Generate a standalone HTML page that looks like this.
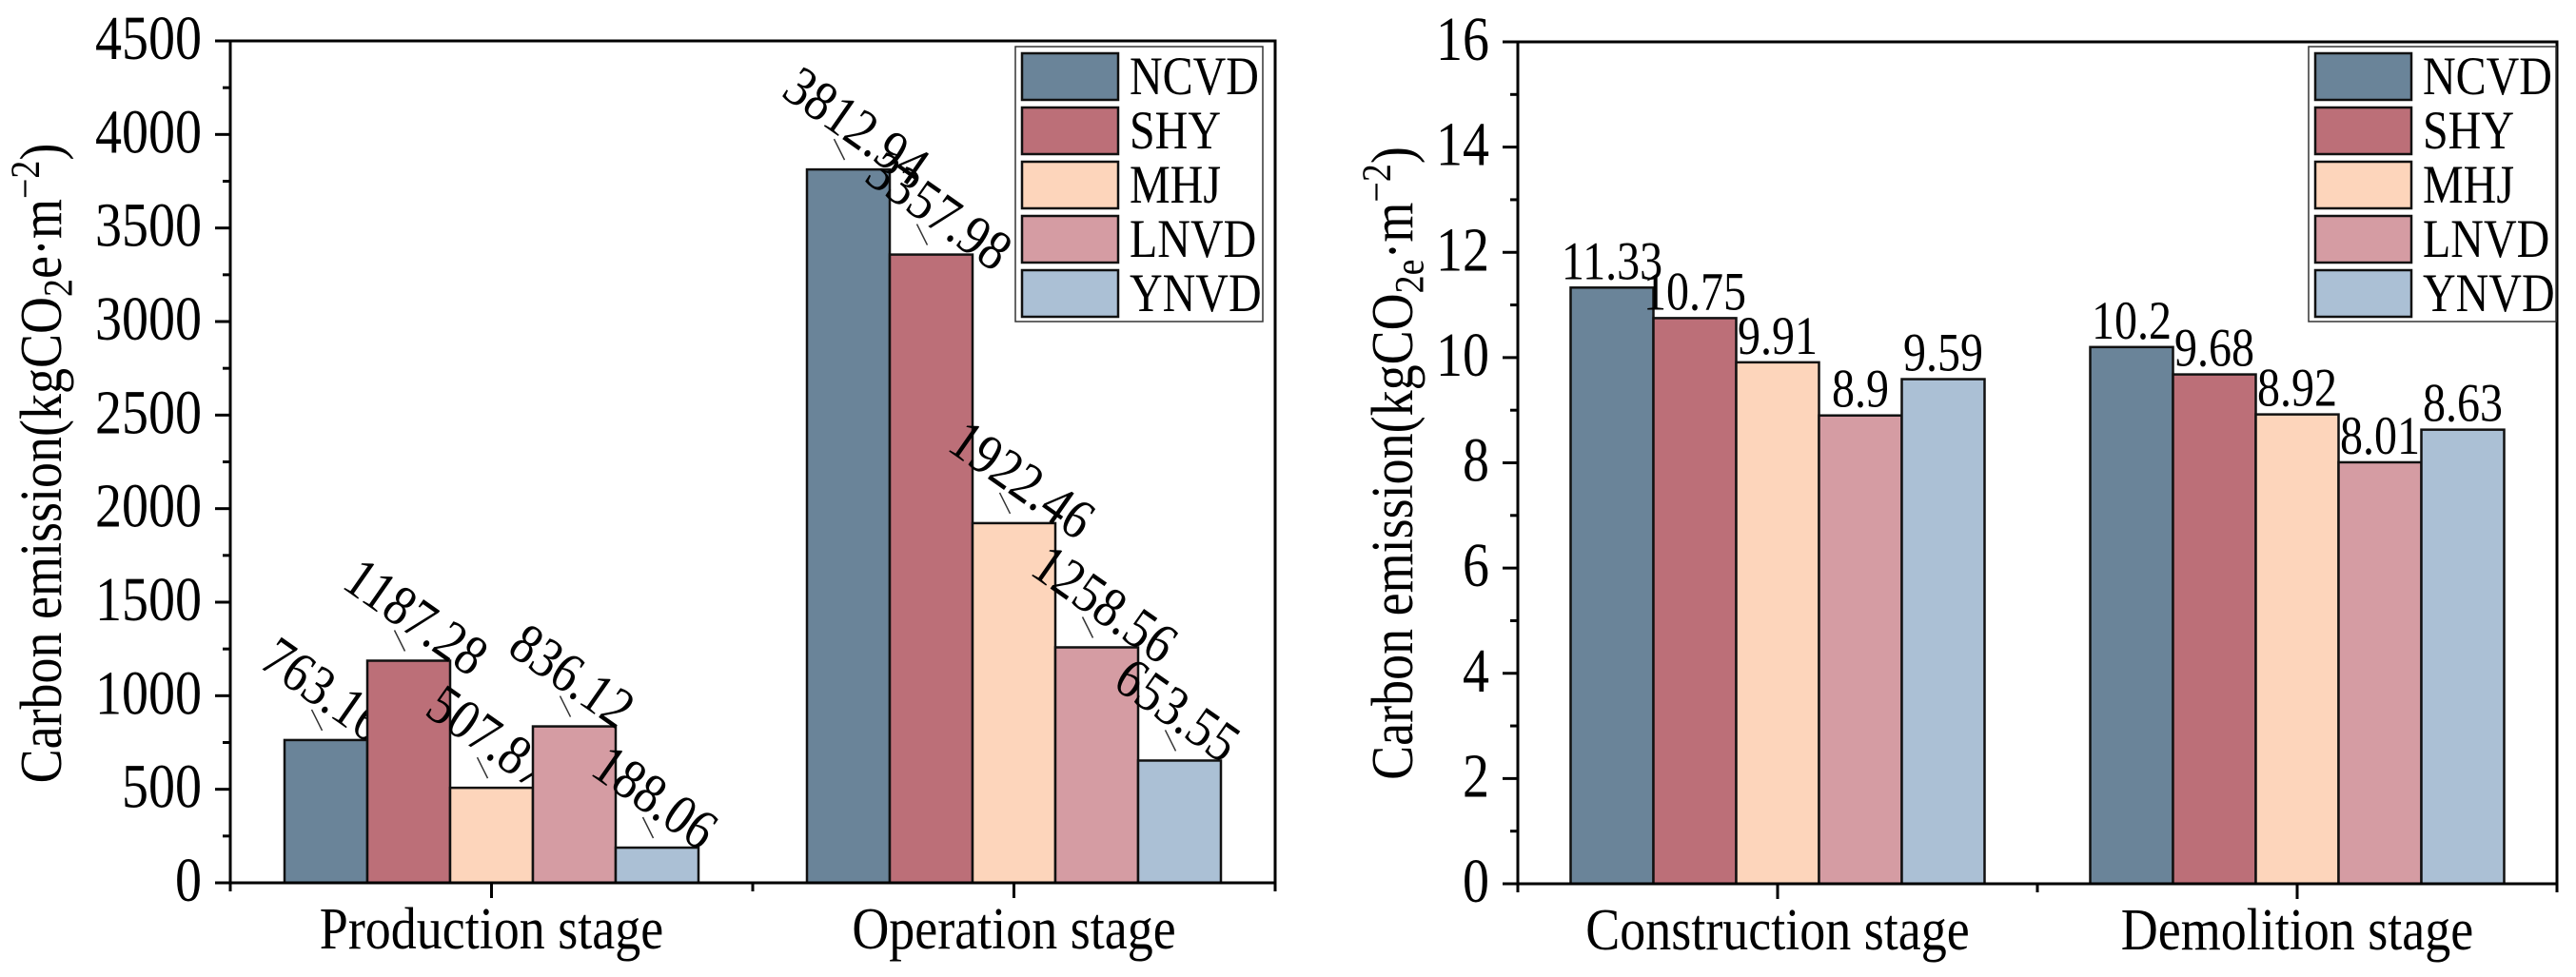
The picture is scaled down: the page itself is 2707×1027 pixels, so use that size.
<!DOCTYPE html>
<html><head><meta charset="utf-8"><style>
html,body{margin:0;padding:0;background:#fff}
svg{display:block;font-family:"Liberation Serif","DejaVu Serif",serif}
</style></head><body>
<svg id="chart" width="2707" height="1027" viewBox="0 0 2707 1027" xmlns="http://www.w3.org/2000/svg">
<rect width="2707" height="1027" fill="#fff"/>
<g id="left"></g>
<g id="right"></g>
</svg>
<script>
const seriesNames = ["NCVD","SHY","MHJ","LNVD","YNVD"];
const seriesColors = ["#6a8499","#bc6f78","#fdd5bb","#d59ca3","#abc0d5"];
const leftCategories = ["Production stage","Operation stage"];
const leftNCVD = [763.16, 3812.94];
const leftSHY = [1187.28, 3357.98];
const leftMHJ = [507.87, 1922.46];
const leftLNVD = [836.12, 1258.56];
const leftYNVD = [188.06, 653.55];
const leftTicks = [0,500,1000,1500,2000,2500,3000,3500,4000,4500];
const rightCategories = ["Construction stage","Demolition stage"];
const rightNCVD = [11.33, 10.2];
const rightSHY = [10.75, 9.68];
const rightMHJ = [9.91, 8.92];
const rightLNVD = [8.9, 8.01];
const rightYNVD = [9.59, 8.63];
const rightTicks = [0,2,4,6,8,10,12,14,16];

const NS = "http://www.w3.org/2000/svg";
function mk(parent, tag, attrs, text){
  const e = document.createElementNS(NS, tag);
  for (const k in attrs) e.setAttribute(k, attrs[k]);
  if (text !== undefined) e.textContent = text;
  parent.appendChild(e);
  return e;
}
// text at (x,y) with vertical stretch
function txt(parent, x, y, size, str, anchor, extra, sy){
  const t = mk(parent, "text", {x:0, y:0, "font-size":size, "text-anchor":anchor||"start", fill:"#000",
    transform:`translate(${x},${y}) ${extra||""} scale(1,${sy||1.18})`}, str);
  return t;
}

function drawChart(g, cfg){
  const {x0,x1,yB,yT,ymax,ticks,cats,series,rotated,legendX,sub} = cfg;
  const yScale = v => yB - v/ymax*(yB-yT);
  const catW = (x1-x0)/cats.length;
  const xCenter = i => x0 + catW*(i+0.5);
  const barW = 87;

  series.forEach((vals, s) => {
    vals.forEach((v, i) => {
      const bx = xCenter(i) - barW*series.length/2 + s*barW;
      const by = yScale(v);
      const r = mk(g, "rect", {x:bx, y:by, width:barW, height:yB-by, fill:seriesColors[s], stroke:"#111", "stroke-width":2.5});
      
      
      const cx = bx + barW/2;
      const label = String(v);
      if (rotated){
        const ln = mk(g, "line", {x1:cx-4, y1:by-10, x2:cx-15, y2:by-32, stroke:"#333", "stroke-width":1.5});
        
        
        const t = txt(g, cx-72, by-78, 52, label, "start", "rotate(35)", 1.15);
        
        
      } else {
        const t = txt(g, cx, by-9, 48, label, "middle", "", 1.2);
        
        
      }
    });
  });

  const fr = mk(g, "rect", {x:x0, y:yT, width:x1-x0, height:yB-yT, fill:"none", stroke:"#000", "stroke-width":3});
  
  

  ticks.forEach((t, k) => {
    const y = yScale(t);
    mk(g, "line", {x1:x0-16, y1:y, x2:x0, y2:y, stroke:"#000", "stroke-width":3});
    if (k < ticks.length-1){
      const ym = yScale((t + ticks[k+1])/2);
      mk(g, "line", {x1:x0-8, y1:ym, x2:x0, y2:ym, stroke:"#000", "stroke-width":3});
    }
    const tl = txt(g, x0-30, y+19, 56, String(t), "end", "", 1.18);
    
    
  });

  cats.forEach((c, i) => {
    const cx = xCenter(i);
    mk(g, "line", {x1:cx, y1:yB, x2:cx, y2:yB+16, stroke:"#000", "stroke-width":3});
    const tl = txt(g, cx, yB+69, 54, c, "middle", "", 1.15);
    
    
  });
  for (let i=0;i<=cats.length;i++){
    const bx = x0 + catW*i;
    mk(g, "line", {x1:bx, y1:yB, x2:bx, y2:yB+9, stroke:"#000", "stroke-width":3});
  }

  const ty = mk(g, "text", {x:0, y:0, "font-size":54, "text-anchor":"middle", fill:"#000",
     transform:`translate(${cfg.titleX},487) rotate(-90) scale(1,1.15)`});
  
  
  mk(ty, "tspan", {}, "Carbon emission(kgCO");
  mk(ty, "tspan", {"font-size":38, dy:10}, sub);
  mk(ty, "tspan", {dy:-10}, cfg.afterSub);
  mk(ty, "tspan", {"font-size":38, dy:-20}, "\u22122");
  mk(ty, "tspan", {dy:20}, ")");

  const lg = mk(g, "g", {});
  
  
  mk(lg, "rect", {x:legendX, y:49, width:260, height:289, fill:"#fff", stroke:"#333", "stroke-width":1.5});
  seriesNames.forEach((n, s) => {
    const yy = 56 + s*57;
    const e = mk(lg, "g", {});
    
    
    mk(e, "rect", {x:legendX+7, y:yy, width:101, height:49, fill:seriesColors[s], stroke:"#111", "stroke-width":2.5});
    txt(e, legendX+120, yy+43, 48, n, "start", "", 1.2);
  });
}

drawChart(document.getElementById('left'), {
  x0:242, x1:1340, yB:928, yT:43, ymax:4500, ticks:leftTicks, cats:leftCategories,
  series:[leftNCVD,leftSHY,leftMHJ,leftLNVD,leftYNVD], rotated:true, legendX:1067,
  sub:"2", afterSub:"e\u00b7m", titleX:64
});
drawChart(document.getElementById('right'), {
  x0:1595, x1:2687, yB:929, yT:44, ymax:16, ticks:rightTicks, cats:rightCategories,
  series:[rightNCVD,rightSHY,rightMHJ,rightLNVD,rightYNVD], rotated:false, legendX:2426,
  sub:"2e", afterSub:"\u00b7m", titleX:1484
});
</script>
</body></html>
